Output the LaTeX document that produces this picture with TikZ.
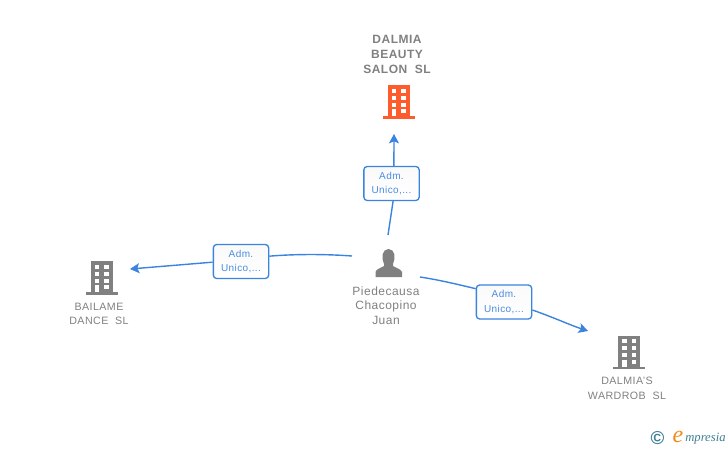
\documentclass[tikz,border=0pt]{standalone}
\usepackage{fontspec}
\usetikzlibrary{arrows.meta}
\setmainfont[LetterSpace=4]{Liberation Sans}
\newfontfamily\logofont{Liberation Serif}
\definecolor{linkblue}{HTML}{3A84E0}
\definecolor{labelblue}{HTML}{4A8CE2}
\definecolor{namegray}{HTML}{808080}
\definecolor{iconorange}{HTML}{FF5C2E}
\definecolor{logoteal}{HTML}{3E7F95}
\definecolor{logoorange}{HTML}{F08A1D}
\tikzset{
  link/.style={draw=linkblue,line width=1.05pt,>={Stealth[length=7pt,width=7.5pt,inset=1.5pt]}},
  rolebox/.style={draw=linkblue,line width=1pt,rounded corners=2.5pt,top color=black!2,bottom color=white,
    minimum width=41.5pt,minimum height=25.5pt,inner sep=0pt,align=center,
    text=labelblue,font=\fontsize{7.5}{11.2}\selectfont},
  firm/.style={align=center,text=namegray,inner sep=0pt,font=\fontsize{8}{11}\selectfont},
  building/.pic={
    \fill[pic actions] (-11,0) rectangle (11,31);
    \fill[pic actions] (-16,31) rectangle (16,33.5);
    \foreach \yy in {3.5,10.5,17.5,24} {
      \fill[white] (2.5,\yy) rectangle (7,\yy+4);
    }
    \foreach \yy in {3.5,10.5,17.5} {
      \fill[white] (-7,\yy) rectangle (-2.5,\yy+4);
    }
    \fill[white] (-7,24) rectangle (-2.5,31);
  }
}
\begin{document}
\begin{tikzpicture}[x=.75pt,y=-.75pt]
  \useasboundingbox (0,0) rectangle (728,450);
  % buildings
  \pic[iconorange] at (398.5,85) {building};
  \pic[namegray] at (101.5,261) {building};
  \pic[namegray] at (629,335.5) {building};
  % person
  \fill[namegray] (375.5,277) -- (402,277) -- (402,272)
    .. controls (401,269) and (396,268) .. (393,266)
    -- (393,264) .. controls (396,258) and (395,249) .. (388.5,249)
    .. controls (382,249) and (381,258) .. (384,264)
    -- (384,266) .. controls (381,268) and (376,269) .. (375.5,272)
    -- cycle;
  % names
  \node[firm,font=\fontsize{9}{11}\selectfont\bfseries] (salon) at (397,54.5) {DALMIA\\BEAUTY\\SALON\ \ SL};
  \node[firm] (bailame) at (99,314) {BAILAME\\DANCE\ \ SL};
  \node[firm] (wardrob) at (627,388.5) {DALMIA'S\\WARDROB\ \ SL};
  \node[firm,font=\fontsize{9}{11}\selectfont] (person) at (386,305.5) {Piedecausa\\Chacopino\\Juan};
  % role boxes
  \node[rolebox] (roleup) at (391.5,183.5) {Adm.\\Unico,...};
  \node[rolebox] (roleleft) at (241,261.5) {Adm.\\Unico,...};
  \node[rolebox] (roleright) at (504,302) {Adm.\\Unico,...};
  % free ends
  \coordinate (upstart) at (388,235);
  \coordinate (upend) at (394,134);
  \coordinate (leftstart) at (352,256);
  \coordinate (leftend) at (130,269);
  \coordinate (rightstart) at (420,277);
  \coordinate (rightend) at (588,331);
  % links
  \draw[link] (upstart) -- ([xshift=1.2pt]roleup.south);
  \draw[link,->] ([xshift=1.8pt]roleup.north) -- (upend);
  \draw[link] (leftstart) .. controls (325,254) and (295,254) .. ([yshift=4pt]roleleft.east);
  \draw[link,->] ([yshift=-.5pt]roleleft.west) -- (leftend);
  \draw[link] (rightstart) .. controls (440,280) and (460,285) .. ([yshift=10pt]roleright.west);
  \draw[link,->] ([yshift=-6pt]roleright.east) .. controls (550,316) and (570,325) .. (rightend);
  % logo
  \node[inner sep=0pt,text=logoteal,font=\fontsize{14}{14}\selectfont\bfseries] (copyr) at (657.5,438.5) {\char"00A9};
  \node[inner sep=0pt,text=logoorange,font=\logofont\itshape\fontsize{18}{18}\selectfont] (logoe) at (678,436.5) {e};
  \node[inner sep=0pt,anchor=west,text=logoteal,font=\logofont\itshape\fontsize{9.5}{10}\selectfont] (logoname) at (685,439) {mpresia};
\end{tikzpicture}
\end{document}
